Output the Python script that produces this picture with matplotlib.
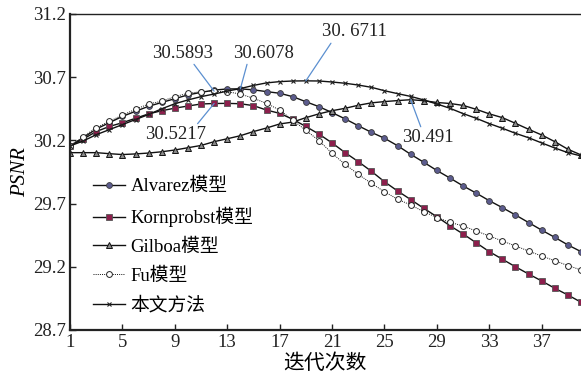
import matplotlib
matplotlib.use("Agg")
import matplotlib.pyplot as plt
from matplotlib.lines import Line2D

plt.rcParams["font.family"] = ["Liberation Serif", "Noto Sans CJK SC"]

iters = list(range(1, 41))

alvarez = [30.156, 30.22, 30.29, 30.34, 30.39, 30.43, 30.47, 30.50, 30.53, 30.56,
           30.58, 30.598, 30.607, 30.6078, 30.60, 30.586, 30.573, 30.546, 30.506, 30.467,
           30.42, 30.37, 30.316, 30.264, 30.217, 30.158, 30.09, 30.027, 29.962, 29.902,
           29.84, 29.783, 29.723, 29.668, 29.61, 29.55, 29.49, 29.433, 29.373, 29.32]

kornprobst = [30.156, 30.21, 30.27, 30.31, 30.34, 30.375, 30.41, 30.435, 30.455, 30.472,
              30.488, 30.492, 30.493, 30.49, 30.475, 30.44, 30.414, 30.367, 30.31, 30.25,
              30.18, 30.103, 30.032, 29.956, 29.873, 29.80, 29.732, 29.663, 29.596, 29.525,
              29.46, 29.39, 29.32, 29.26, 29.20, 29.143, 29.088, 29.03, 28.977, 28.92]

gilboa = [30.103, 30.103, 30.103, 30.095, 30.088, 30.093, 30.10, 30.11, 30.124, 30.142,
          30.16, 30.19, 30.213, 30.237, 30.27, 30.298, 30.33, 30.345, 30.38, 30.41,
          30.435, 30.454, 30.478, 30.497, 30.507, 30.515, 30.522, 30.514, 30.50, 30.492,
          30.477, 30.446, 30.41, 30.38, 30.335, 30.288, 30.243, 30.19, 30.13, 30.085]

fu = [30.156, 30.23, 30.30, 30.35, 30.40, 30.446, 30.488, 30.51, 30.546, 30.573,
      30.585, 30.5893, 30.585, 30.567, 30.533, 30.493, 30.44, 30.36, 30.28, 30.198,
      30.098, 30.01, 29.932, 29.86, 29.794, 29.735, 29.689, 29.636, 29.59, 29.552,
      29.523, 29.483, 29.444, 29.404, 29.365, 29.325, 29.285, 29.248, 29.21, 29.175]

ours = [30.156, 30.195, 30.245, 30.285, 30.325, 30.365, 30.405, 30.45, 30.49, 30.52,
        30.546, 30.567, 30.59, 30.61, 30.635, 30.655, 30.665, 30.67, 30.6711, 30.67,
        30.662, 30.652, 30.638, 30.62, 30.593, 30.57, 30.548, 30.52, 30.488, 30.454,
        30.412, 30.375, 30.333, 30.296, 30.256, 30.221, 30.18, 30.14, 30.103, 30.077]

labels = ["Alvarez模型", "Kornprobst模型", "Gilboa模型", "Fu模型", "本文方法"]
x_ticks = list(range(1, 40, 4))
y_ticks = [28.7, 29.2, 29.7, 30.2, 30.7, 31.2]

fig = plt.figure(figsize=(5.81, 3.80), dpi=100)
ax = fig.add_axes([70 / 581, 50 / 380, 511 / 581, 316 / 380])

styles = [
    dict(marker="o", ms=4.2, mfc="#5c5c8e", mec="#3a3a3a", mew=0.6, ls="-"),
    dict(marker="s", ms=4.2, mfc="#8c1f4c", mec="#555555", mew=0.6, ls="-"),
    dict(marker="^", ms=5.0, mfc="#8a8a8a", mec="#111111", mew=0.7, ls="-"),
    dict(marker="o", ms=4.2, mfc="white", mec="#222222", mew=0.7, ls=(0, (1, 1.2))),
    dict(marker="x", ms=3.2, mfc="black", mec="#222222", mew=0.8, ls="-"),
]
series = [alvarez, kornprobst, gilboa, fu, ours]
handles = []
for vals, st, lab in zip(series, styles, labels):
    lw = 0.7 if st["ls"] != "-" else 1.0
    ax.plot(iters, vals, color="#111111", lw=lw, **st)
    handles.append(Line2D([0], [0], color="#111111", lw=lw, label=lab, **st))

# annotation boxes: text, marked point, text centre (data), line start on text
ann_color = "#5b8fd0"
anns = [
    ("30.5893", (iters[11], fu[11]), (9.56, 30.891), (0.66, 0)),
    ("30.6078", (iters[13], alvarez[13]), (15.73, 30.891), (0.25, 0)),
    ("30. 6711", (iters[18], ours[18]), (22.69, 31.058), (0.17, 0)),
    ("30.5217", (iters[11], kornprobst[11]), (9.03, 30.243), (0.83, 1)),
    ("30.491", (iters[26], gilboa[26]), (28.32, 30.219), (0.38, 1)),
]
for txt, xy, xyt, rp in anns:
    ax.annotate(txt, xy=xy, xytext=xyt, ha="center", va="center", fontsize=13.5,
                color="#222222",
                arrowprops=dict(arrowstyle="-", color=ann_color, lw=0.9,
                                shrinkA=0, shrinkB=0, relpos=rp))

ax.set_xlim(1, 40)
ax.set_ylim(28.7, 31.2)
ax.set_xticks(x_ticks)
ax.set_yticks(y_ticks)
ax.set_yticklabels([f"{v:.1f}" for v in y_ticks])
ax.tick_params(direction="in", length=4, width=1, labelsize=13.5, colors="#222222")
ax.tick_params(axis="x", pad=3)
ax.tick_params(axis="y", pad=3)
ax.spines["right"].set_visible(False)
ax.spines["left"].set_linewidth(1.6)
ax.spines["bottom"].set_linewidth(1.6)
ax.spines["top"].set_linewidth(1.0)
for s in ax.spines.values():
    s.set_color("#222222")

ax.set_ylabel("PSNR", fontsize=15, style="italic", labelpad=2)
ax.set_xlabel("迭代次数", fontsize=15, labelpad=2)

fig.legend(handles=handles, loc="upper left", bbox_to_anchor=(93 / 581, 1 - 178 / 380),
           bbox_transform=fig.transFigure, frameon=False, fontsize=13.5,
           handlelength=1.7, handletextpad=0.3, labelspacing=0.62, borderpad=0,
           borderaxespad=0, numpoints=1)

fig.savefig("out.png", dpi=100)
